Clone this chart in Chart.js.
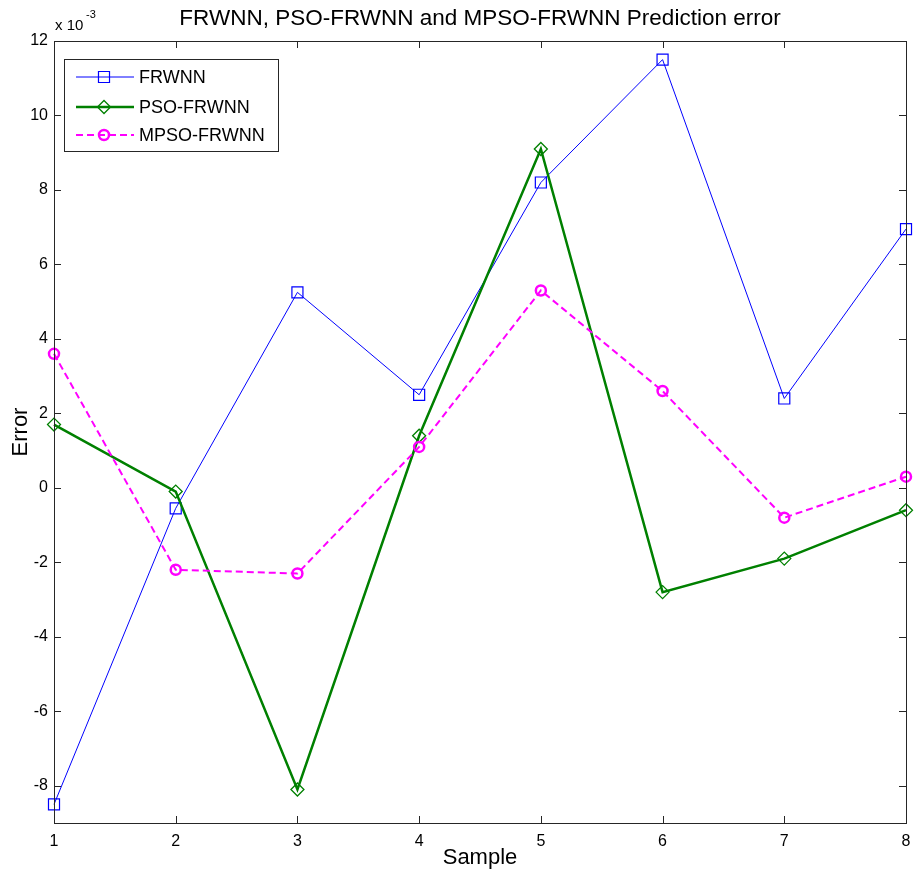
<!DOCTYPE html>
<html><head><meta charset="utf-8">
<script src="https://cdn.jsdelivr.net/npm/chart.js@4/dist/chart.umd.min.js"></script>
<style>html,body{margin:0;padding:0;background:#fff}#wrap{width:915px;height:874px}</style>
</head><body><div id="wrap"><canvas id="c" width="915" height="874"></canvas></div>
<script>
// Data (error values in units of 1e-3)
const samples = ["1","2","3","4","5","6","7","8"];
const frwnn = [-8.5, -0.55, 5.25, 2.5, 8.2, 11.5, 2.4, 6.95];
const psoFrwnn = [1.7, -0.1, -8.1, 1.4, 9.1, -2.8, -1.9, -0.6];
const mpsoFrwnn = [3.6, -2.2, -2.3, 1.1, 5.3, 2.6, -0.8, 0.3];
const yTicks = [-8, -6, -4, -2, 0, 2, 4, 6, 8, 10, 12];
const seriesNames = ["FRWNN", "PSO-FRWNN", "MPSO-FRWNN"];
const titleText = "FRWNN, PSO-FRWNN and MPSO-FRWNN Prediction error";

const FONT = "'Liberation Sans', Arial, sans-serif";

const framePlugin = {
  id: 'frame',
  afterDraw(chart) {
    const ctx = chart.ctx, a = chart.chartArea;
    const xs = chart.scales.x, ys = chart.scales.y;
    ctx.save();
    ctx.strokeStyle = '#262626';
    ctx.lineWidth = 1;
    ctx.strokeRect(Math.round(a.left) + 0.5, Math.round(a.top) + 0.5, Math.round(a.right - a.left), Math.round(a.bottom - a.top));
    const tl = 7;
    ctx.beginPath();
    samples.forEach((s, i) => {
      const px = Math.round(xs.getPixelForValue(i)) + 0.5;
      ctx.moveTo(px, a.bottom); ctx.lineTo(px, a.bottom - tl);
      ctx.moveTo(px, a.top); ctx.lineTo(px, a.top + tl);
    });
    yTicks.forEach(v => {
      const py = Math.round(ys.getPixelForValue(v)) + 0.5;
      ctx.moveTo(a.left, py); ctx.lineTo(a.left + tl, py);
      ctx.moveTo(a.right, py); ctx.lineTo(a.right - tl, py);
    });
    ctx.stroke();

    // title
    ctx.fillStyle = '#000';
    ctx.font = '22.5px ' + FONT;
    ctx.textAlign = 'center'; ctx.textBaseline = 'middle';
    ctx.fillText(titleText, (a.left + a.right) / 2, 19);
    // exponent label
    ctx.font = '15px ' + FONT;
    ctx.textAlign = 'left';
    ctx.fillText('x 10', 55, 26);
    ctx.font = '11px ' + FONT;
    ctx.fillText('-3', 86, 15);

    // legend
    const lx = 64, ly = 59, lw = 214, lh = 92;
    ctx.fillStyle = '#fff';
    ctx.fillRect(lx, ly, lw, lh);
    ctx.strokeStyle = '#262626'; ctx.lineWidth = 1;
    ctx.strokeRect(lx + 0.5, ly + 0.5, lw, lh);
    const rows = [77, 107, 135];
    chart.data.datasets.forEach((ds, i) => {
      const y = rows[i];
      ctx.save();
      ctx.strokeStyle = ds.borderColor;
      ctx.lineWidth = ds.borderWidth;
      ctx.setLineDash(ds.borderDash || []);
      ctx.beginPath(); ctx.moveTo(76, y); ctx.lineTo(134, y); ctx.stroke();
      ctx.setLineDash([]);
      ctx.lineWidth = ds.pointBorderWidth;
      ctx.fillStyle = 'rgba(0,0,0,0)';
      Chart.helpers.drawPoint(ctx, {pointStyle: ds.pointStyle, radius: ds.pointRadius, borderWidth: ds.pointBorderWidth}, 104, y);
      ctx.restore();
      ctx.fillStyle = '#000';
      ctx.font = '18px ' + FONT;
      ctx.textAlign = 'left'; ctx.textBaseline = 'middle';
      ctx.fillText(seriesNames[i], 139, y + 1);
    });
    ctx.restore();
  }
};

new Chart(document.getElementById('c'), {
  type: 'line',
  data: {
    labels: samples,
    datasets: [
      { label: seriesNames[0], data: frwnn, borderColor: '#0000ff', backgroundColor: 'rgba(0,0,0,0)',
        borderWidth: 1, pointStyle: 'rect', pointRadius: 7.8, pointBorderWidth: 1.2,
        pointBackgroundColor: 'rgba(0,0,0,0)', pointBorderColor: '#0000ff', order: 3, tension: 0 },
      { label: seriesNames[1], data: psoFrwnn, borderColor: '#008000', backgroundColor: 'rgba(0,0,0,0)',
        borderWidth: 2.5, pointStyle: 'rectRot', pointRadius: 6.5, pointBorderWidth: 1.3,
        pointBackgroundColor: 'rgba(0,0,0,0)', pointBorderColor: '#008000', order: 2, tension: 0 },
      { label: seriesNames[2], data: mpsoFrwnn, borderColor: '#ff00ff', backgroundColor: 'rgba(0,0,0,0)',
        borderWidth: 2, borderDash: [7, 4], pointStyle: 'circle', pointRadius: 5, pointBorderWidth: 2.5,
        pointBackgroundColor: 'rgba(0,0,0,0)', pointBorderColor: '#ff00ff', order: 1, tension: 0 }
    ]
  },
  options: {
    responsive: false,
    animation: false,
    devicePixelRatio: 1,
    layout: { padding: { top: 41, right: 7, left: 0, bottom: 0 } },
    plugins: { legend: { display: false }, title: { display: false }, tooltip: { enabled: false } },
    scales: {
      x: {
        type: 'category', offset: false,
        grid: { display: false, drawTicks: false },
        border: { display: false },
        ticks: { color: '#000', font: { family: FONT, size: 16 }, padding: 9, maxRotation: 0 },
        title: { display: true, text: 'Sample', color: '#000', font: { family: FONT, size: 22 }, padding: { top: 0, bottom: 3 } },
        afterFit(s) { s.height = 51; s.paddingRight = 0; s.paddingLeft = 0; }
      },
      y: {
        min: -9, max: 12,
        grid: { display: false, drawTicks: false },
        border: { display: false },
        afterBuildTicks(s) { s.ticks = yTicks.map(v => ({ value: v })); },
        ticks: { color: '#000', font: { family: FONT, size: 16 }, padding: 6 },
        title: { display: true, text: 'Error', color: '#000', font: { family: FONT, size: 22 }, padding: { top: 8, bottom: 0 } },
        afterFit(s) { s.width = 54; s.paddingTop = 0; s.paddingBottom = 0; }
      }
    }
  },
  plugins: [framePlugin]
});
</script></body></html>
